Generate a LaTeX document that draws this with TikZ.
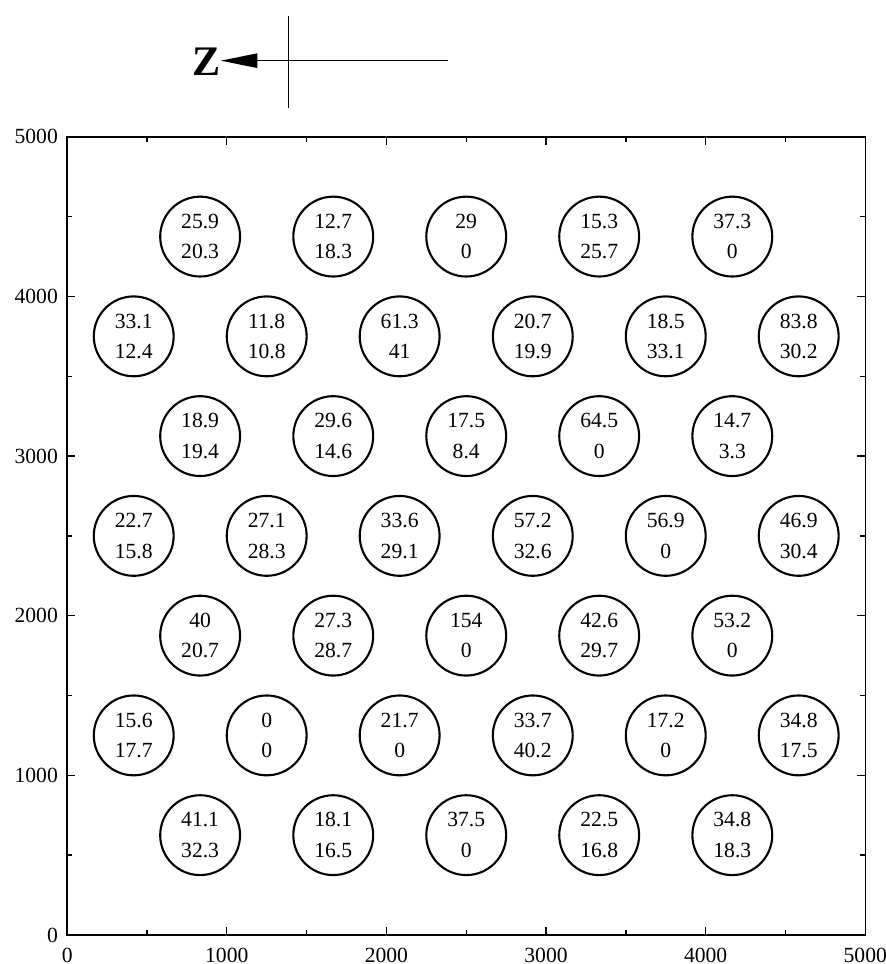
\documentclass[tikz,border=0pt]{standalone}
\usepackage{fontspec}
\setmainfont{Liberation Serif}
\usetikzlibrary{arrows.meta}

\begin{document}
\begin{tikzpicture}[x=0.002cm, y=0.002cm,
    rod/.style={circle, draw, line width=0.75pt, minimum size=1cm,
                inner sep=0pt, align=center,
                font=\fontsize{7.7}{10.9}\selectfont},
    ticklabel/.style={inner sep=0pt, font=\fontsize{7.7}{10}\selectfont}]

    \useasboundingbox (-0.841cm,-0.364cm) rectangle (10.245cm,11.707cm);

    % compass
    \node[inner sep=0pt, anchor=east,
          font=\fontsize{15}{18}\selectfont\bfseries] (zlabel) at (962,5468) {Z};
    \coordinate (cross-n) at (1388,5760);
    \coordinate (cross-s) at (1388,5182);
    \coordinate (cross-e) at (2386,5477);
    \draw[line width=0.55pt] (cross-n) -- (cross-s);
    \draw[line width=0.55pt, -{Triangle[length=4.6mm, width=1.8mm]}]
        (cross-e) -- (zlabel.east |- cross-e);

    % frame and ticks
    \draw[line width=0.55pt] (0,0) rectangle (5000,5000);
    \foreach \t in {500,1500,2500,3500,4500} {
        \draw[line width=0.5pt] (\t,0) -- ++(0,32);
        \draw[line width=0.5pt] (\t,5000) -- ++(0,-32);
        \draw[line width=0.5pt] (0,\t) -- ++(32,0);
        \draw[line width=0.5pt] (5000,\t) -- ++(-32,0);
    }
    \foreach \t in {1000,2000,3000,4000} {
        \draw[line width=0.5pt] (\t,0) -- ++(0,50);
        \draw[line width=0.5pt] (\t,5000) -- ++(0,-50);
        \draw[line width=0.5pt] (0,\t) -- ++(50,0);
        \draw[line width=0.5pt] (5000,\t) -- ++(-50,0);
    }
    \foreach \t in {0,1000,2000,3000,4000,5000} {
        \node[ticklabel, anchor=north] (xl\t) at (\t,-80) {\t};
        \node[ticklabel, anchor=east] (yl\t) at (-55,\t) {\t};
    }

    % row 1
    \node[rod] (r1c1) at (833,4375)  {25.9\\20.3};
    \node[rod] (r1c2) at (1667,4375) {12.7\\18.3};
    \node[rod] (r1c3) at (2500,4375) {29\\0};
    \node[rod] (r1c4) at (3333,4375) {15.3\\25.7};
    \node[rod] (r1c5) at (4167,4375) {37.3\\0};

    % row 2
    \node[rod] (r2c1) at (417,3750)  {33.1\\12.4};
    \node[rod] (r2c2) at (1250,3750) {11.8\\10.8};
    \node[rod] (r2c3) at (2083,3750) {61.3\\41};
    \node[rod] (r2c4) at (2917,3750) {20.7\\19.9};
    \node[rod] (r2c5) at (3750,3750) {18.5\\33.1};
    \node[rod] (r2c6) at (4583,3750) {83.8\\30.2};

    % row 3
    \node[rod] (r3c1) at (833,3125)  {18.9\\19.4};
    \node[rod] (r3c2) at (1667,3125) {29.6\\14.6};
    \node[rod] (r3c3) at (2500,3125) {17.5\\8.4};
    \node[rod] (r3c4) at (3333,3125) {64.5\\0};
    \node[rod] (r3c5) at (4167,3125) {14.7\\3.3};

    % row 4
    \node[rod] (r4c1) at (417,2500)  {22.7\\15.8};
    \node[rod] (r4c2) at (1250,2500) {27.1\\28.3};
    \node[rod] (r4c3) at (2083,2500) {33.6\\29.1};
    \node[rod] (r4c4) at (2917,2500) {57.2\\32.6};
    \node[rod] (r4c5) at (3750,2500) {56.9\\0};
    \node[rod] (r4c6) at (4583,2500) {46.9\\30.4};

    % row 5
    \node[rod] (r5c1) at (833,1875)  {40\\20.7};
    \node[rod] (r5c2) at (1667,1875) {27.3\\28.7};
    \node[rod] (r5c3) at (2500,1875) {154\\0};
    \node[rod] (r5c4) at (3333,1875) {42.6\\29.7};
    \node[rod] (r5c5) at (4167,1875) {53.2\\0};

    % row 6
    \node[rod] (r6c1) at (417,1250)  {15.6\\17.7};
    \node[rod] (r6c2) at (1250,1250) {0\\0};
    \node[rod] (r6c3) at (2083,1250) {21.7\\0};
    \node[rod] (r6c4) at (2917,1250) {33.7\\40.2};
    \node[rod] (r6c5) at (3750,1250) {17.2\\0};
    \node[rod] (r6c6) at (4583,1250) {34.8\\17.5};

    % row 7
    \node[rod] (r7c1) at (833,625)  {41.1\\32.3};
    \node[rod] (r7c2) at (1667,625) {18.1\\16.5};
    \node[rod] (r7c3) at (2500,625) {37.5\\0};
    \node[rod] (r7c4) at (3333,625) {22.5\\16.8};
    \node[rod] (r7c5) at (4167,625) {34.8\\18.3};

\end{tikzpicture}
\end{document}
